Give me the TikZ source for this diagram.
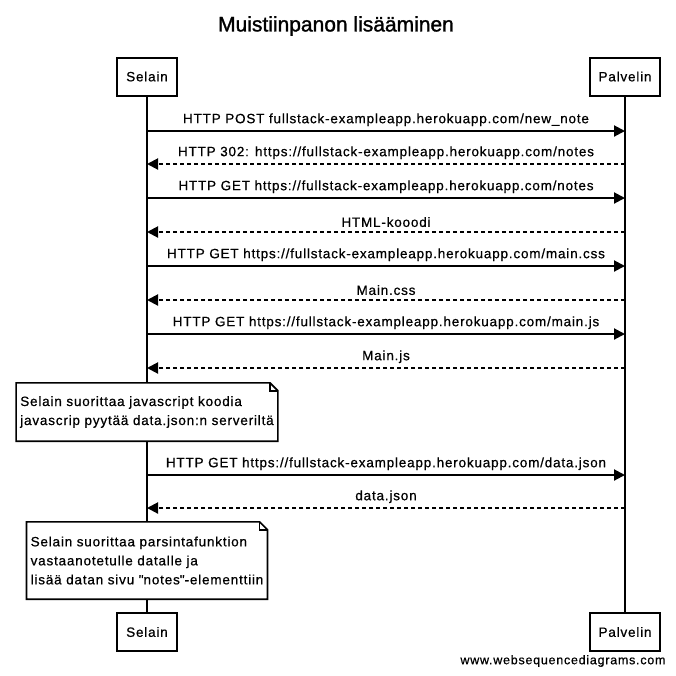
\documentclass[tikz,border=0pt]{standalone}
\usepackage{fontspec}
\setmainfont{Liberation Sans}[LetterSpace=6,FakeBold=0.6]
\usetikzlibrary{arrows.meta,positioning,calc}
\newcommand{\seqfont}{\fontsize{13.5}{19}\selectfont}
\tikzset{
  actor/.style={draw=black, fill=white, line width=2pt, minimum height=38pt,
                inner xsep=9pt, inner ysep=0pt, font=\seqfont},
  lifeline/.style={draw=black, line width=2pt},
  msg/.style={draw=black, line width=2pt, -{Triangle[length=11pt,width=11pt]}},
  reply/.style={msg, dash pattern=on 4pt off 3pt},
  lbl/.style={midway, above=4pt, inner sep=0pt, font=\seqfont},
  note/.style={align=left, inner xsep=4pt, inner ysep=0pt, font=\seqfont},
  notebox/.style={draw=black, fill=white, line width=1.6pt}
}

\begin{document}
\begin{tikzpicture}[x=1pt,y=1pt]
    \useasboundingbox (0,0) rectangle (676,-675);

    % Title
    \node[font=\fontsize{21}{24}\selectfont\addfontfeature{LetterSpace=0,FakeBold=1.4}] (title)
      at (336,-26) {Muistiinpanon lisääminen};

    % Participants
    \node[actor] (selain) at (147,-76.5) {Selain};
    \node[actor] (palvelin) at (625,-76.5) {Palvelin};
    \node[actor] (selainB) at (147,-632) {Selain};
    \node[actor] (palvelinB) at (625,-632) {Palvelin};
    \draw[lifeline] (selain) -- (selainB);
    \draw[lifeline] (palvelin) -- (palvelinB);
    \node[actor] at (selain) {Selain};
    \node[actor] at (palvelin) {Palvelin};
    \node[actor] at (selainB) {Selain};
    \node[actor] at (palvelinB) {Palvelin};

    % Message points on the lifelines
    \foreach \i/\y in {1/131,2/164,3/198,4/232,5/266,6/300,7/334,8/368,9/475,10/508}{
      \coordinate (s\i) at (selain.south |- 0,-\y);
      \coordinate (p\i) at (palvelin.south |- 0,-\y);
    }

    % Requests and replies
    \draw[msg] (s1) -- node[lbl] {HTTP POST fullstack-exampleapp.herokuapp.com/new\_note} (p1);
    \draw[reply] (p2) -- node[lbl] {HTTP 302: https://fullstack-exampleapp.herokuapp.com/notes} (s2);
    \draw[msg] (s3) -- node[lbl] {HTTP GET https://fullstack-exampleapp.herokuapp.com/notes} (p3);
    \draw[reply] (p4) -- node[lbl] {HTML-kooodi} (s4);
    \draw[msg] (s5) -- node[lbl] {HTTP GET https://fullstack-exampleapp.herokuapp.com/main.css} (p5);
    \draw[reply] (p6) -- node[lbl] {Main.css} (s6);
    \draw[msg] (s7) -- node[lbl] {HTTP GET https://fullstack-exampleapp.herokuapp.com/main.js} (p7);
    \draw[reply] (p8) -- node[lbl] {Main.js} (s8);
    \draw[msg] (s9) -- node[lbl] {HTTP GET https://fullstack-exampleapp.herokuapp.com/data.json} (p9);
    \draw[reply] (p10) -- node[lbl] {data.json} (s10);

    % Notes
    \node[note, minimum height=58pt] (noteA) at (147,-412)
      {Selain suorittaa javascript koodia\\javascrip pyytää data.json:n serveriltä};
    \node[note, minimum height=77pt] (noteB) at (147,-560.5)
      {Selain suorittaa parsintafunktion\\vastaanotetulle datalle ja\\lisää datan sivu \textquotedbl notes\textquotedbl-elementtiin};
    \foreach \n in {noteA,noteB}{
      \draw[notebox] (\n.south west) -- (\n.north west) -- ($(\n.north east)+(-8,0)$)
        -- ($(\n.north east)+(0,-8)$) -- (\n.south east) -- cycle;
      \draw[notebox, fill=none] ($(\n.north east)+(-8,0)$) -- ($(\n.north east)+(-8,-8)$)
        -- ($(\n.north east)+(0,-8)$);
    }
    \node[note] at (noteA) {Selain suorittaa javascript koodia\\javascrip pyytää data.json:n serveriltä};
    \node[note] at (noteB) {Selain suorittaa parsintafunktion\\vastaanotetulle datalle ja\\lisää datan sivu \textquotedbl notes\textquotedbl-elementtiin};

    % Watermark
    \node[anchor=east, font=\fontsize{12.5}{14}\selectfont] (mark) at (669,-661) {www.websequencediagrams.com};
\end{tikzpicture}
\end{document}
